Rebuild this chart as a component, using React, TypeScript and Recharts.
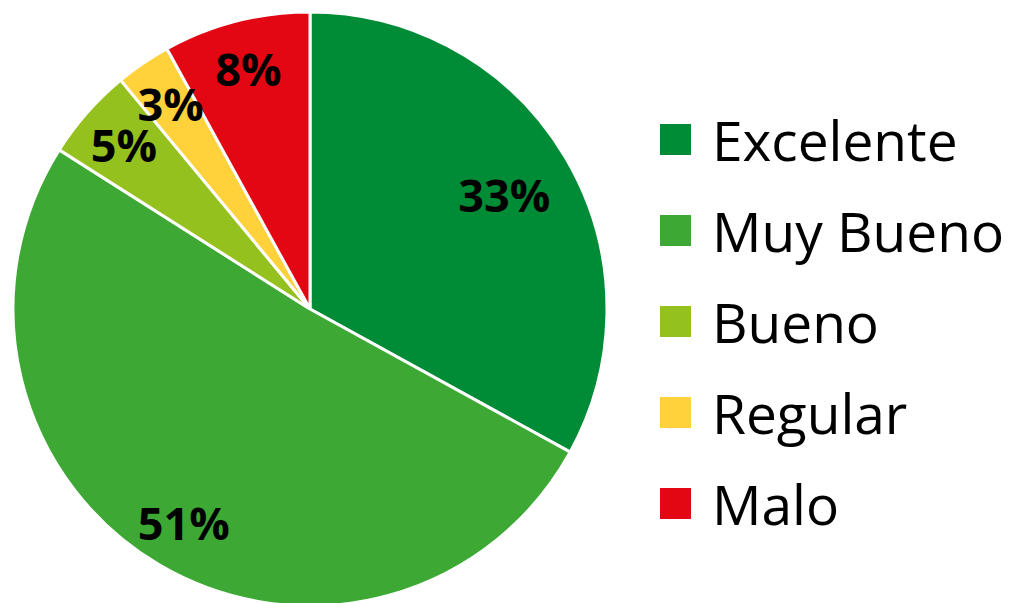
import React from 'react';
import { PieChart, Pie, Cell, Legend } from 'recharts';

const categories = ['Excelente', 'Muy Bueno', 'Bueno', 'Regular', 'Malo'];
const shares = [33, 51, 5, 3, 8];
const colors = ['#008C36', '#3DA934', '#95C11F', '#FFD13A', '#E30613'];

const data = categories.map((name, i) => ({ name, value: shares[i] }));

const RADIAN = Math.PI / 180;

const renderLabel = (props: any) => {
  const { cx, cy, midAngle, outerRadius, value } = props;
  const r = outerRadius * (value === 33 ? 0.76 : 0.835);
  const x = cx + r * Math.cos(-midAngle * RADIAN);
  const y = cy + r * Math.sin(-midAngle * RADIAN);
  return (
    <text
      x={x}
      y={y}
      fill="#000"
      textAnchor="middle"
      dominantBaseline="central"
      fontFamily="'Open Sans', sans-serif"
      fontWeight={700}
      fontSize={45}
    >
      {`${value}%`}
    </text>
  );
};

const renderLegend = () => (
  <div style={{ fontFamily: "'Open Sans', sans-serif" }}>
    {categories.map((name, i) => (
      <div key={name} style={{ display: 'flex', alignItems: 'center', height: 91 }}>
        <div style={{ width: 31, height: 31, background: colors[i], marginRight: 21 }} />
        <span style={{ fontSize: 55, color: '#000', lineHeight: 1 }}>{name}</span>
      </div>
    ))}
  </div>
);

export default function App() {
  return (
    <div style={{ position: 'absolute', left: 0, top: 0, background: '#fff' }}>
      <PieChart width={1015} height={603}>
        <Pie
          data={data}
          dataKey="value"
          nameKey="name"
          cx={305}
          cy={304}
          outerRadius={297}
          startAngle={90}
          endAngle={-270}
          stroke="#fff"
          strokeWidth={3}
          label={renderLabel}
          labelLine={false}
          isAnimationActive={false}
        >
          {data.map((d, i) => (
            <Cell key={d.name} fill={colors[i]} />
          ))}
        </Pie>
        <Legend
          content={renderLegend}
          wrapperStyle={{ position: 'absolute', left: 660, top: 94, width: 355 }}
        />
      </PieChart>
    </div>
  );
}
